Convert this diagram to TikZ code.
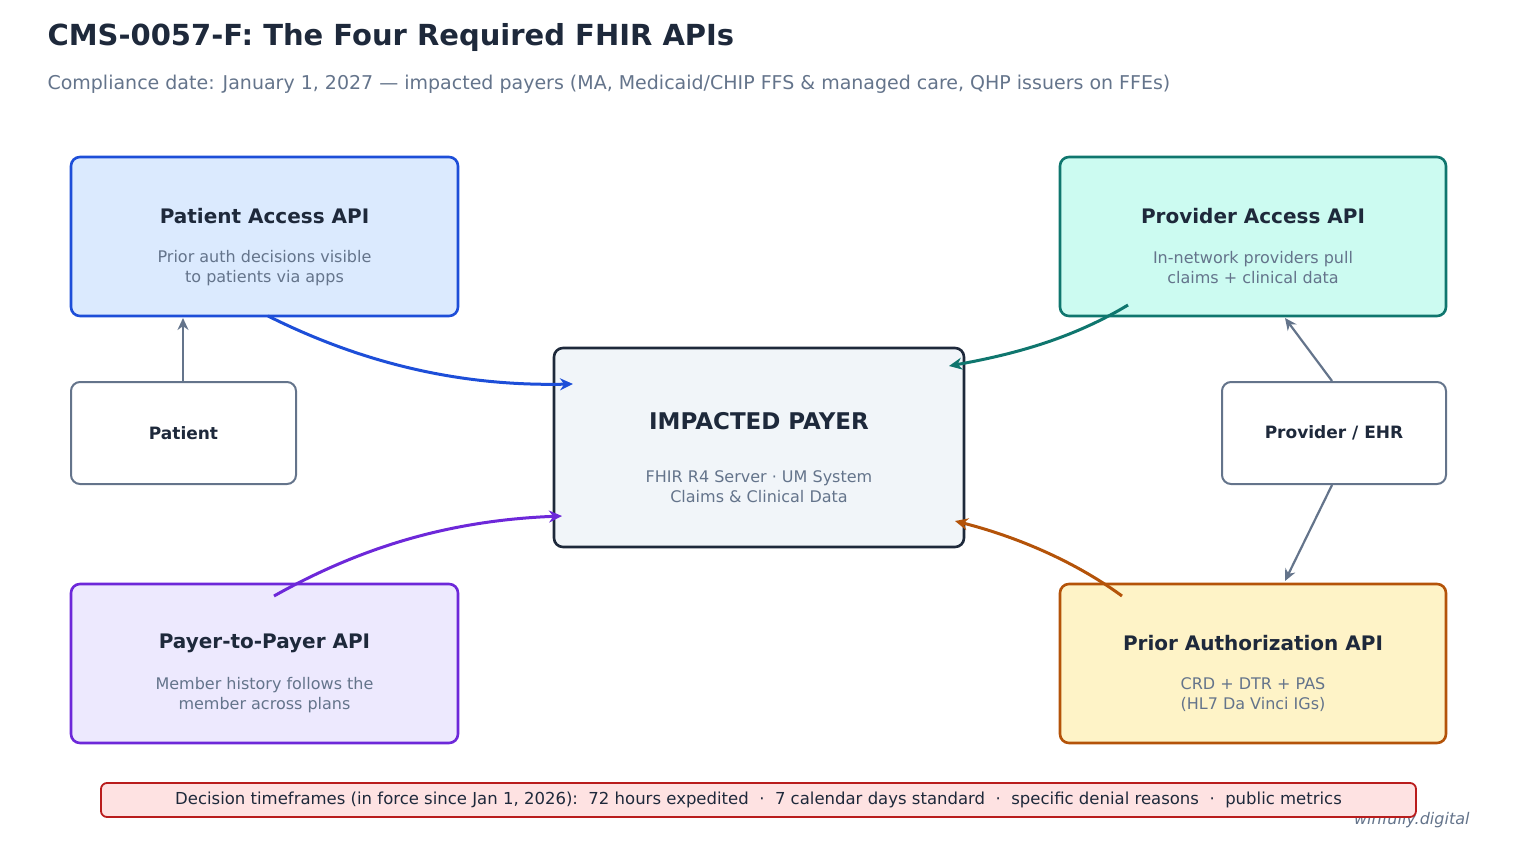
\documentclass[tikz,border=0pt]{standalone}
\usepackage{fontspec}
\setmainfont{DejaVu Sans}
\usetikzlibrary{arrows.meta}
\definecolor{ink}{HTML}{1E293B}
\definecolor{sub}{HTML}{64748B}
\definecolor{bluS}{HTML}{1D4ED8}\definecolor{bluF}{HTML}{DBEAFE}
\definecolor{tealS}{HTML}{0F766E}\definecolor{tealF}{HTML}{CCFBF1}
\definecolor{purS}{HTML}{6D28D9}\definecolor{purF}{HTML}{EDE9FE}
\definecolor{orS}{HTML}{B45309}\definecolor{orF}{HTML}{FEF3C7}
\definecolor{redS}{HTML}{B91C1C}\definecolor{redF}{HTML}{FEE2E2}
\definecolor{cenF}{HTML}{F1F5F9}
\begin{document}
\begin{tikzpicture}[x=1pt,y=-1pt,
 box/.style={draw,line width=2.6pt,rounded corners=9pt},
 small/.style={draw=sub,line width=2pt,fill=white,rounded corners=9pt},
 ttl/.style={font=\fontsize{20}{24}\selectfont\bfseries,text=ink},
 sb/.style={font=\fontsize{16}{20}\selectfont,text=sub,align=center},
 arr/.style={line width=3pt,-{Stealth[length=13pt,width=12pt]}},
 garr/.style={line width=2.2pt,draw=sub,-{Stealth[length=12pt,width=11pt]}}]
\useasboundingbox (0,0) rectangle (1518,861);
\node[anchor=west,font=\fontsize{29}{34}\selectfont\bfseries,text=ink] (title) at (44,38) {CMS-0057-F: The Four Required FHIR APIs};
\node[anchor=west,font=\fontsize{19}{23}\selectfont,text=sub] (subt) at (44,84) {Compliance date: January 1, 2027 — impacted payers (MA, Medicaid/CHIP FFS \& managed care, QHP issuers on FFEs)};
% boxes
\draw[box,draw=bluS,fill=bluF] (71,157) rectangle (458,316);
\node[ttl] (pat) at (264.5,216) {Patient Access API};
\node[sb] (patd) at (264.5,268) {Prior auth decisions visible\\to patients via apps};
\draw[box,draw=tealS,fill=tealF] (1060,157) rectangle (1446,316);
\node[ttl] (prov) at (1253,216) {Provider Access API};
\node[sb] (provd) at (1253,268) {In-network providers pull\\claims + clinical data};
\draw[box,draw=purS,fill=purF] (71,584) rectangle (458,743);
\node[ttl] (p2p) at (264.5,643) {Payer-to-Payer API};
\node[sb] (p2pd) at (264.5,695) {Member history follows the\\member across plans};
\draw[box,draw=orS,fill=orF] (1060,584) rectangle (1446,743);
\node[ttl] (pa) at (1253,643) {Prior Authorization API};
\node[sb] (pad) at (1253,695) {CRD + DTR + PAS\\(HL7 Da Vinci IGs)};
\draw[box,draw=ink,fill=cenF] (554,348) rectangle (964,547);
\node[font=\fontsize{23}{28}\selectfont\bfseries,text=ink] (cen) at (759,421) {IMPACTED PAYER};
\node[sb] (cend) at (759,487) {FHIR R4 Server · UM System\\Claims \& Clinical Data};
\draw[small] (71,382) rectangle (296,484);
\node[font=\fontsize{17}{20}\selectfont\bfseries,text=ink] (patient) at (183.5,433) {Patient};
\draw[small] (1222,382) rectangle (1446,484);
\node[font=\fontsize{17}{20}\selectfont\bfseries,text=ink] (ehr) at (1334,433) {Provider / EHR};
% connector endpoints
\coordinate (a1) at (183,382); \coordinate (a2) at (183,318);
\coordinate (b1) at (268,316); \coordinate (b2) at (573,384);
\coordinate (c1) at (1128,305); \coordinate (c2) at (949,366);
\coordinate (d1) at (1332,381); \coordinate (d2) at (1285,318);
\coordinate (e1) at (1332,485); \coordinate (e2) at (1285,581);
\coordinate (f1) at (274,596); \coordinate (f2) at (562,516);
\coordinate (g1) at (1122,596); \coordinate (g2) at (955,521);
\draw[garr] (a1) -- (a2);
\draw[garr] (d1) -- (d2);
\draw[garr] (e1) -- (e2);
\draw[arr,draw=bluS] (b1) .. controls (380,372) and (480,386) .. (b2);
\draw[arr,draw=tealS] (c1) .. controls (1070,340) and (1010,355) .. (c2);
\draw[arr,draw=purS] (f1) .. controls (370,542) and (460,520) .. (f2);
\draw[arr,draw=orS] (g1) .. controls (1070,558) and (1010,535) .. (g2);
% banner
\node[anchor=east,font=\fontsize{16}{20}\selectfont\itshape,text=sub] (wm) at (1473,820) {winfully.digital};
\draw[draw=redS,fill=redF,line width=1.8pt,rounded corners=6pt] (101,783) rectangle (1416,817);
\node[font=\fontsize{16.5}{20}\selectfont,text=ink] (ban) at (758.5,800) {Decision timeframes (in force since Jan 1, 2026):\ \ 72 hours expedited\ \ ·\ \ 7 calendar days standard\ \ ·\ \ specific denial reasons\ \ ·\ \ public metrics};
\end{tikzpicture}
\end{document}
